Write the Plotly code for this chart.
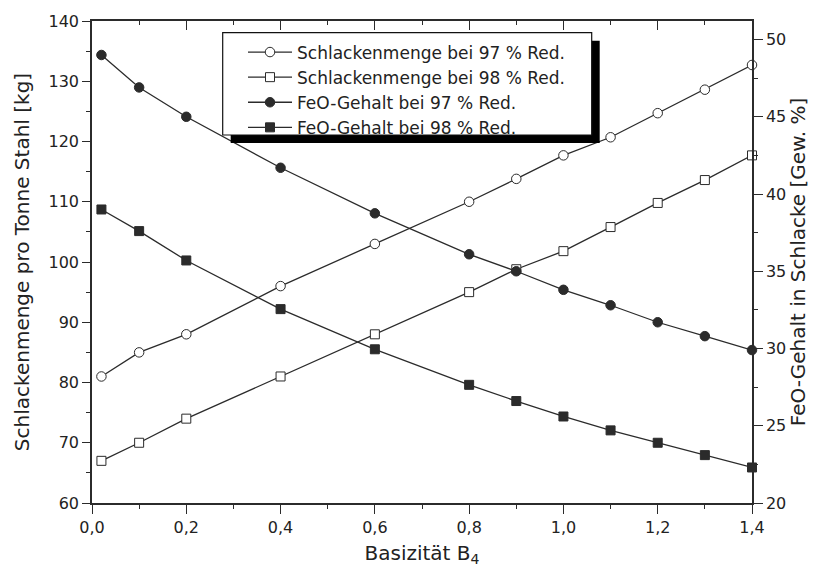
import plotly.graph_objects as go

# Basizität B4 (x) and the four measured series
basizitaet = [0.02, 0.1, 0.2, 0.4, 0.6, 0.8, 0.9, 1.0, 1.1, 1.2, 1.3, 1.4]
schlacke_97 = [81, 85, 88, 96, 103, 110, 113.8, 117.7, 120.7, 124.7, 128.6, 132.7]
schlacke_98 = [67, 70, 74, 81, 88, 95, 98.8, 101.8, 105.8, 109.8, 113.6, 117.7]
feo_97 = [49.0, 46.9, 45.0, 41.7, 38.75, 36.1, 35.0, 33.8, 32.8, 31.7, 30.8, 29.9]
feo_98 = [39.0, 37.6, 35.7, 32.55, 29.95, 27.65, 26.6, 25.6, 24.7, 23.9, 23.1, 22.3]

names = [
    "Schlackenmenge bei 97 % Red.",
    "Schlackenmenge bei 98 % Red.",
    "FeO-Gehalt bei 97 % Red.",
    "FeO-Gehalt bei 98 % Red.",
]

W, H = 823, 572
ML, MR, MT, MB = 92, 71, 21, 69
PW, PH = W - ML - MR, H - MT - MB
FONT = "DejaVu Sans"
INK = "#222222"
LINE = "#2b2b2b"


def px_x(px):
    return (px - ML) / PW


def px_y(py):
    return (H - MB - py) / PH


fig = go.Figure()

series = [
    (schlacke_97, "circle", "white", "x", "y"),
    (schlacke_98, "square", "white", "x", "y"),
    (feo_97, "circle", LINE, "x2", "y2"),
    (feo_98, "square", LINE, "x2", "y2"),
]
for i, (vals, sym, fill, xa, ya) in enumerate(series):
    fig.add_trace(go.Scatter(
        x=basizitaet, y=vals, name=names[i], mode="lines+markers",
        xaxis=xa, yaxis=ya, legendgroup=f"g{i}", cliponaxis=False,
        line=dict(color=LINE, width=1.3),
        marker=dict(symbol=sym, size=9.5 if sym == "circle" else 9,
                    color=fill, line=dict(color=LINE, width=1)),
    ))

tickfont = dict(family=FONT, size=16, color=INK)
titlefont = dict(family=FONT, size=20, color=INK)
common = dict(showline=True, linecolor=LINE, linewidth=1.5, showgrid=False,
              zeroline=False, tickcolor=LINE, tickwidth=1.3, tickfont=tickfont)

# legend frame and drop shadow
box_l, box_t, box_r, box_b = 222.7, 32.7, 591.7, 135.0
shadow = 8
fig.add_shape(type="rect", xref="paper", yref="paper", layer="above",
              x0=px_x(box_l + shadow), x1=px_x(box_r + shadow),
              y0=px_y(box_t + shadow), y1=px_y(box_b + shadow),
              fillcolor="black", line=dict(width=0))
fig.add_shape(type="rect", xref="paper", yref="paper", layer="above",
              x0=px_x(box_l), x1=px_x(box_r), y0=px_y(box_t), y1=px_y(box_b),
              fillcolor="white", line=dict(color="#111111", width=1.2))

fig.update_layout(
    width=W, height=H, autosize=False,
    margin=dict(l=ML, r=MR, t=MT, b=MB, pad=0),
    paper_bgcolor="white", plot_bgcolor="white",
    separators=",.",
    font=dict(family=FONT, color=INK),
    showlegend=True,
    legend=dict(
        x=px_x(243), y=px_y(34.5), xanchor="left", yanchor="top",
        bgcolor="rgba(0,0,0,0)", borderwidth=0,
        font=dict(family=FONT, size=17, color=INK),
        traceorder="grouped", tracegroupgap=0, itemwidth=44,
    ),
    xaxis=dict(range=[0, 1.4], dtick=0.2, tick0=0, tickformat=".1f",
               ticks="outside", ticklen=9,
               minor=dict(ticks="outside", ticklen=4, dtick=0.1, tickcolor=LINE),
               title=dict(text="Basizität B<sub>4</sub>", font=titlefont, standoff=10),
               **common),
    xaxis2=dict(overlaying="x", side="top", matches="x", anchor="y2",
                ticks="inside", ticklen=9, showticklabels=False,
                minor=dict(ticks="inside", ticklen=4, dtick=0.1, tickcolor=LINE),
                dtick=0.2, tick0=0, **common),
    yaxis=dict(range=[60, 140], dtick=10, tick0=60, ticks="outside", ticklen=8,
               minor=dict(ticks="outside", ticklen=4, dtick=5, tickcolor=LINE),
               title=dict(text="Schlackenmenge pro Tonne Stahl [kg]", font=titlefont,
                          standoff=14),
               **common),
    yaxis2=dict(range=[20, 51.2], dtick=5, tick0=20, overlaying="y", side="right",
                anchor="x2", ticks="outside", ticklen=9,
                minor=dict(ticks="outside", ticklen=4, dtick=2.5, tickcolor=LINE),
                title=dict(text="FeO-Gehalt in Schlacke [Gew. %]", font=titlefont,
                           standoff=4),
                **common),
)

fig.write_html("out.html")
